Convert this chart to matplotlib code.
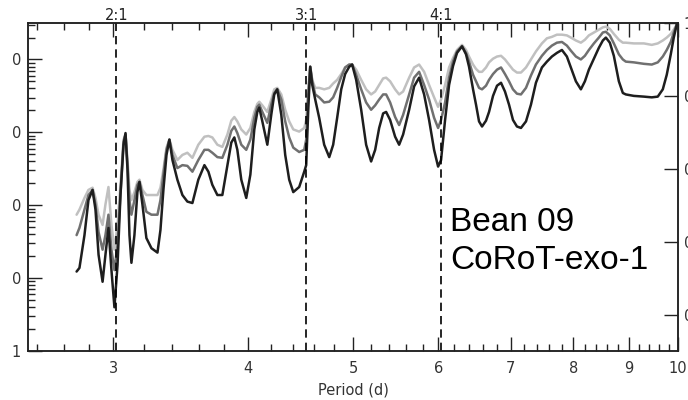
import numpy as np
import matplotlib
matplotlib.use('Agg')
import matplotlib.pyplot as plt
from matplotlib.ticker import FixedLocator, FixedFormatter, NullFormatter, NullLocator, LogLocator

# Trial period grid (days) shared by the three limit curves
period = [2.773, 2.790, 2.820, 2.844, 2.869, 2.887, 2.906, 2.931, 2.949, 2.968,
          2.987, 3.006, 3.026, 3.045, 3.065, 3.078, 3.091, 3.104, 3.117, 3.137,
          3.157, 3.171, 3.191, 3.218, 3.253, 3.295, 3.316, 3.337, 3.359, 3.380,
          3.402, 3.438, 3.475, 3.512, 3.550, 3.595, 3.642, 3.673, 3.704, 3.744,
          3.784, 3.825, 3.857, 3.882, 3.907, 3.940, 3.982, 4.017, 4.051, 4.077,
          4.094, 4.121, 4.165, 4.200, 4.227, 4.254, 4.291, 4.327, 4.364, 4.402,
          4.458, 4.506, 4.525, 4.545, 4.564, 4.584, 4.613, 4.652, 4.702, 4.753,
          4.793, 4.834, 4.876, 4.917, 4.960, 4.991, 5.034, 5.088, 5.142, 5.197,
          5.242, 5.287, 5.332, 5.366, 5.412, 5.470, 5.517, 5.564, 5.636, 5.696,
          5.757, 5.819, 5.881, 5.944, 5.995, 6.033, 6.085, 6.137, 6.189, 6.242,
          6.309, 6.363, 6.404, 6.459, 6.500, 6.542, 6.584, 6.640, 6.683, 6.740,
          6.798, 6.856, 6.914, 6.974, 7.033, 7.093, 7.154, 7.231, 7.308, 7.386,
          7.481, 7.561, 7.642, 7.724, 7.807, 7.890, 7.958, 8.043, 8.129, 8.199,
          8.269, 8.358, 8.447, 8.519, 8.574, 8.647, 8.721, 8.815, 8.890, 8.947,
          9.101, 9.297, 9.456, 9.578, 9.681, 9.763, 9.847, 9.910, 9.974]

# log10 of the mass limit for each curve (light grey, grey, black)
log_mass_light = [1.87, 1.94, 2.10, 2.21, 2.24, 2.10, 1.87, 1.73, 2.01, 2.25,
                  1.73, 1.39, 1.73, 2.28, 2.90, 2.97, 2.62, 2.21, 2.07, 2.18,
                  2.32, 2.35, 2.21, 2.14, 2.14, 2.14, 2.24, 2.49, 2.79, 2.90,
                  2.76, 2.62, 2.69, 2.72, 2.65, 2.83, 2.94, 2.95, 2.93, 2.83,
                  2.80, 2.97, 3.16, 3.21, 3.15, 3.04, 2.97, 3.06, 3.28, 3.39,
                  3.42, 3.37, 3.28, 3.45, 3.59, 3.61, 3.52, 3.31, 3.15, 3.04,
                  3.01, 3.06, 3.17, 3.59, 3.90, 3.72, 3.61, 3.61, 3.59, 3.61,
                  3.67, 3.72, 3.80, 3.89, 3.93, 3.93, 3.86, 3.72, 3.59, 3.52,
                  3.56, 3.65, 3.74, 3.75, 3.70, 3.59, 3.52, 3.56, 3.75, 3.89,
                  3.93, 3.83, 3.65, 3.48, 3.35, 3.45, 3.65, 3.89, 4.02, 4.13,
                  4.20, 4.13, 4.04, 3.93, 3.87, 3.83, 3.83, 3.89, 3.96, 4.01,
                  4.04, 4.05, 4.00, 3.93, 3.86, 3.82, 3.82, 3.89, 4.00, 4.11,
                  4.22, 4.29, 4.31, 4.34, 4.34, 4.33, 4.30, 4.26, 4.23, 4.27,
                  4.33, 4.37, 4.41, 4.44, 4.45, 4.42, 4.35, 4.27, 4.23, 4.23,
                  4.22, 4.22, 4.20, 4.22, 4.26, 4.30, 4.35, 4.41, 4.48]
log_mass_grey = [1.59, 1.69, 1.94, 2.14, 2.21, 2.01, 1.63, 1.39, 1.59, 1.87,
                 1.39, 1.11, 1.46, 2.14, 2.87, 2.97, 2.55, 2.07, 1.87, 2.07,
                 2.28, 2.32, 2.14, 1.91, 1.87, 1.87, 2.07, 2.42, 2.76, 2.90,
                 2.69, 2.51, 2.55, 2.54, 2.46, 2.62, 2.76, 2.76, 2.72, 2.66,
                 2.65, 2.83, 3.02, 3.08, 2.99, 2.83, 2.76, 2.90, 3.20, 3.35,
                 3.38, 3.28, 3.13, 3.38, 3.54, 3.59, 3.45, 3.15, 2.93, 2.79,
                 2.73, 2.76, 2.90, 3.52, 3.90, 3.70, 3.52, 3.48, 3.41, 3.42,
                 3.48, 3.61, 3.76, 3.89, 3.93, 3.93, 3.79, 3.59, 3.41, 3.31,
                 3.37, 3.45, 3.52, 3.52, 3.41, 3.21, 3.10, 3.24, 3.52, 3.75,
                 3.83, 3.65, 3.45, 3.20, 3.06, 3.17, 3.41, 3.75, 3.97, 4.11,
                 4.18, 4.09, 3.97, 3.79, 3.70, 3.61, 3.59, 3.64, 3.72, 3.80,
                 3.86, 3.89, 3.80, 3.70, 3.59, 3.53, 3.52, 3.61, 3.78, 3.93,
                 4.05, 4.13, 4.19, 4.23, 4.24, 4.19, 4.12, 4.04, 4.00, 4.05,
                 4.13, 4.22, 4.30, 4.37, 4.38, 4.33, 4.22, 4.07, 4.00, 3.97,
                 3.96, 3.94, 3.93, 3.96, 4.04, 4.13, 4.24, 4.37, 4.48]
log_mass_black = [1.09, 1.14, 1.59, 2.07, 2.21, 1.94, 1.32, 0.95, 1.32, 1.69,
                  1.11, 0.60, 1.18, 2.14, 2.83, 2.99, 2.49, 1.59, 1.21, 1.59,
                  2.18, 2.32, 2.01, 1.55, 1.41, 1.35, 1.66, 2.21, 2.69, 2.90,
                  2.62, 2.35, 2.14, 2.05, 2.03, 2.35, 2.55, 2.46, 2.28, 2.14,
                  2.14, 2.55, 2.86, 2.93, 2.76, 2.35, 2.10, 2.42, 3.04, 3.28,
                  3.34, 3.15, 2.83, 3.24, 3.52, 3.59, 3.24, 2.69, 2.35, 2.18,
                  2.25, 2.46, 2.55, 3.31, 3.90, 3.65, 3.45, 3.20, 2.83, 2.66,
                  2.83, 3.20, 3.59, 3.80, 3.90, 3.93, 3.72, 3.31, 2.83, 2.60,
                  2.76, 3.06, 3.26, 3.28, 3.17, 2.94, 2.83, 2.97, 3.31, 3.63,
                  3.75, 3.52, 3.17, 2.76, 2.53, 2.62, 3.17, 3.65, 3.91, 4.09,
                  4.18, 4.07, 3.90, 3.59, 3.38, 3.15, 3.08, 3.16, 3.28, 3.50,
                  3.64, 3.68, 3.56, 3.38, 3.17, 3.08, 3.06, 3.15, 3.38, 3.68,
                  3.89, 3.97, 4.04, 4.09, 4.13, 4.04, 3.89, 3.70, 3.59, 3.70,
                  3.86, 4.01, 4.16, 4.26, 4.30, 4.23, 4.05, 3.70, 3.54, 3.52,
                  3.50, 3.49, 3.48, 3.49, 3.59, 3.79, 4.07, 4.30, 4.48]

# Mean-motion resonances with the transiting planet
resonance_periods = [3.018, 4.527, 6.036]
resonance_labels = ['2:1', '3:1', '4:1']

x_major = [3, 4, 5, 6, 7, 8, 9, 10]
x_minor = [2.55, 2.7, 2.85, 3.2, 3.4, 3.6, 3.8, 4.2, 4.4, 4.6, 4.8,
           5.2, 5.4, 5.6, 5.8, 6.2, 6.4, 6.6, 6.8, 7.2, 7.4, 7.6, 7.8,
           8.2, 8.4, 8.6, 8.8, 9.2, 9.4, 9.6, 9.8]
# only the last glyph of the left labels and the first of the right ones show
y_left_ticks = [1, 10, 100, 1000, 10000]
y_left_labels = ['1', '0', '0', '0', '0']
y_right_ticks = [1e-4, 1e-3, 1e-2, 1e-1, 1]
y_right_labels = ['0', '0', '0', '0', '1']

tick_color = '#333333'

fig = plt.figure(figsize=(6.88, 4.0), dpi=100)
ax = fig.add_axes([28 / 688, 49 / 400, 650 / 688, 328 / 400])

line_kw = dict(lw=1.8, solid_joinstyle='round', solid_capstyle='round')
ax.plot(period, 10 ** np.array(log_mass_light), color='#c0c0c0', zorder=2, **line_kw)
ax.plot(period, 10 ** np.array(log_mass_grey), color='#707070', zorder=3, **line_kw)
ax.plot(period, 10 ** np.array(log_mass_black), color='#1e1e1e', zorder=4, **line_kw)

for p, lbl in zip(resonance_periods, resonance_labels):
    ax.axvline(p, color='black', lw=1.2, linestyle=(0, (5, 3)), zorder=5)
    ax.text(p, 1.0, lbl, transform=ax.get_xaxis_transform(), ha='center',
            va='bottom', fontsize=10.5, color='#222222')

ax.set_xscale('log')
ax.set_yscale('log')
ax.set_xlim(2.5, 10)
ax.set_ylim(1, 10 ** 4.5)

ax.xaxis.set_major_locator(FixedLocator(x_major))
ax.xaxis.set_major_formatter(FixedFormatter([str(v) for v in x_major]))
ax.xaxis.set_minor_locator(FixedLocator(x_minor))
ax.xaxis.set_minor_formatter(NullFormatter())

ax.yaxis.set_major_locator(FixedLocator(y_left_ticks))
ax.yaxis.set_major_formatter(FixedFormatter(y_left_labels))
ax.yaxis.set_minor_locator(LogLocator(base=10, subs=np.arange(2, 10)))
ax.yaxis.set_minor_formatter(NullFormatter())

ax.tick_params(which='both', direction='in', top=True, right=False,
               colors='#222222', labelcolor=tick_color, labelsize=10.5)
ax.tick_params(which='major', length=10, width=1.0)
ax.tick_params(which='minor', length=5, width=1.0)
ax.tick_params(axis='x', pad=7)
ax.tick_params(axis='y', pad=5)
ax.set_xlabel('Period (d)', fontsize=10.5, color=tick_color, labelpad=5)

for s in ax.spines.values():
    s.set_linewidth(1.1)
    s.set_color('#222222')

ax2 = ax.twinx()
ax2.set_yscale('log')
ax2.set_ylim(10 ** -4.5, 1)
ax2.yaxis.set_major_locator(FixedLocator(y_right_ticks))
ax2.yaxis.set_major_formatter(FixedFormatter(y_right_labels))
ax2.yaxis.set_minor_locator(NullLocator())
ax2.tick_params(axis='y', direction='in', length=10, width=1.0, pad=4,
                colors='#222222', labelcolor=tick_color, labelsize=10.5)
for s in ax2.spines.values():
    s.set_linewidth(1.1)
    s.set_color('#222222')

fig.text(450 / 688, 0.483, 'Bean 09\nCoRoT-exo-1', fontsize=24,
         family='Liberation Sans', color='black', ha='left', va='top',
         linespacing=1.3)

fig.savefig('out.png', dpi=100)
